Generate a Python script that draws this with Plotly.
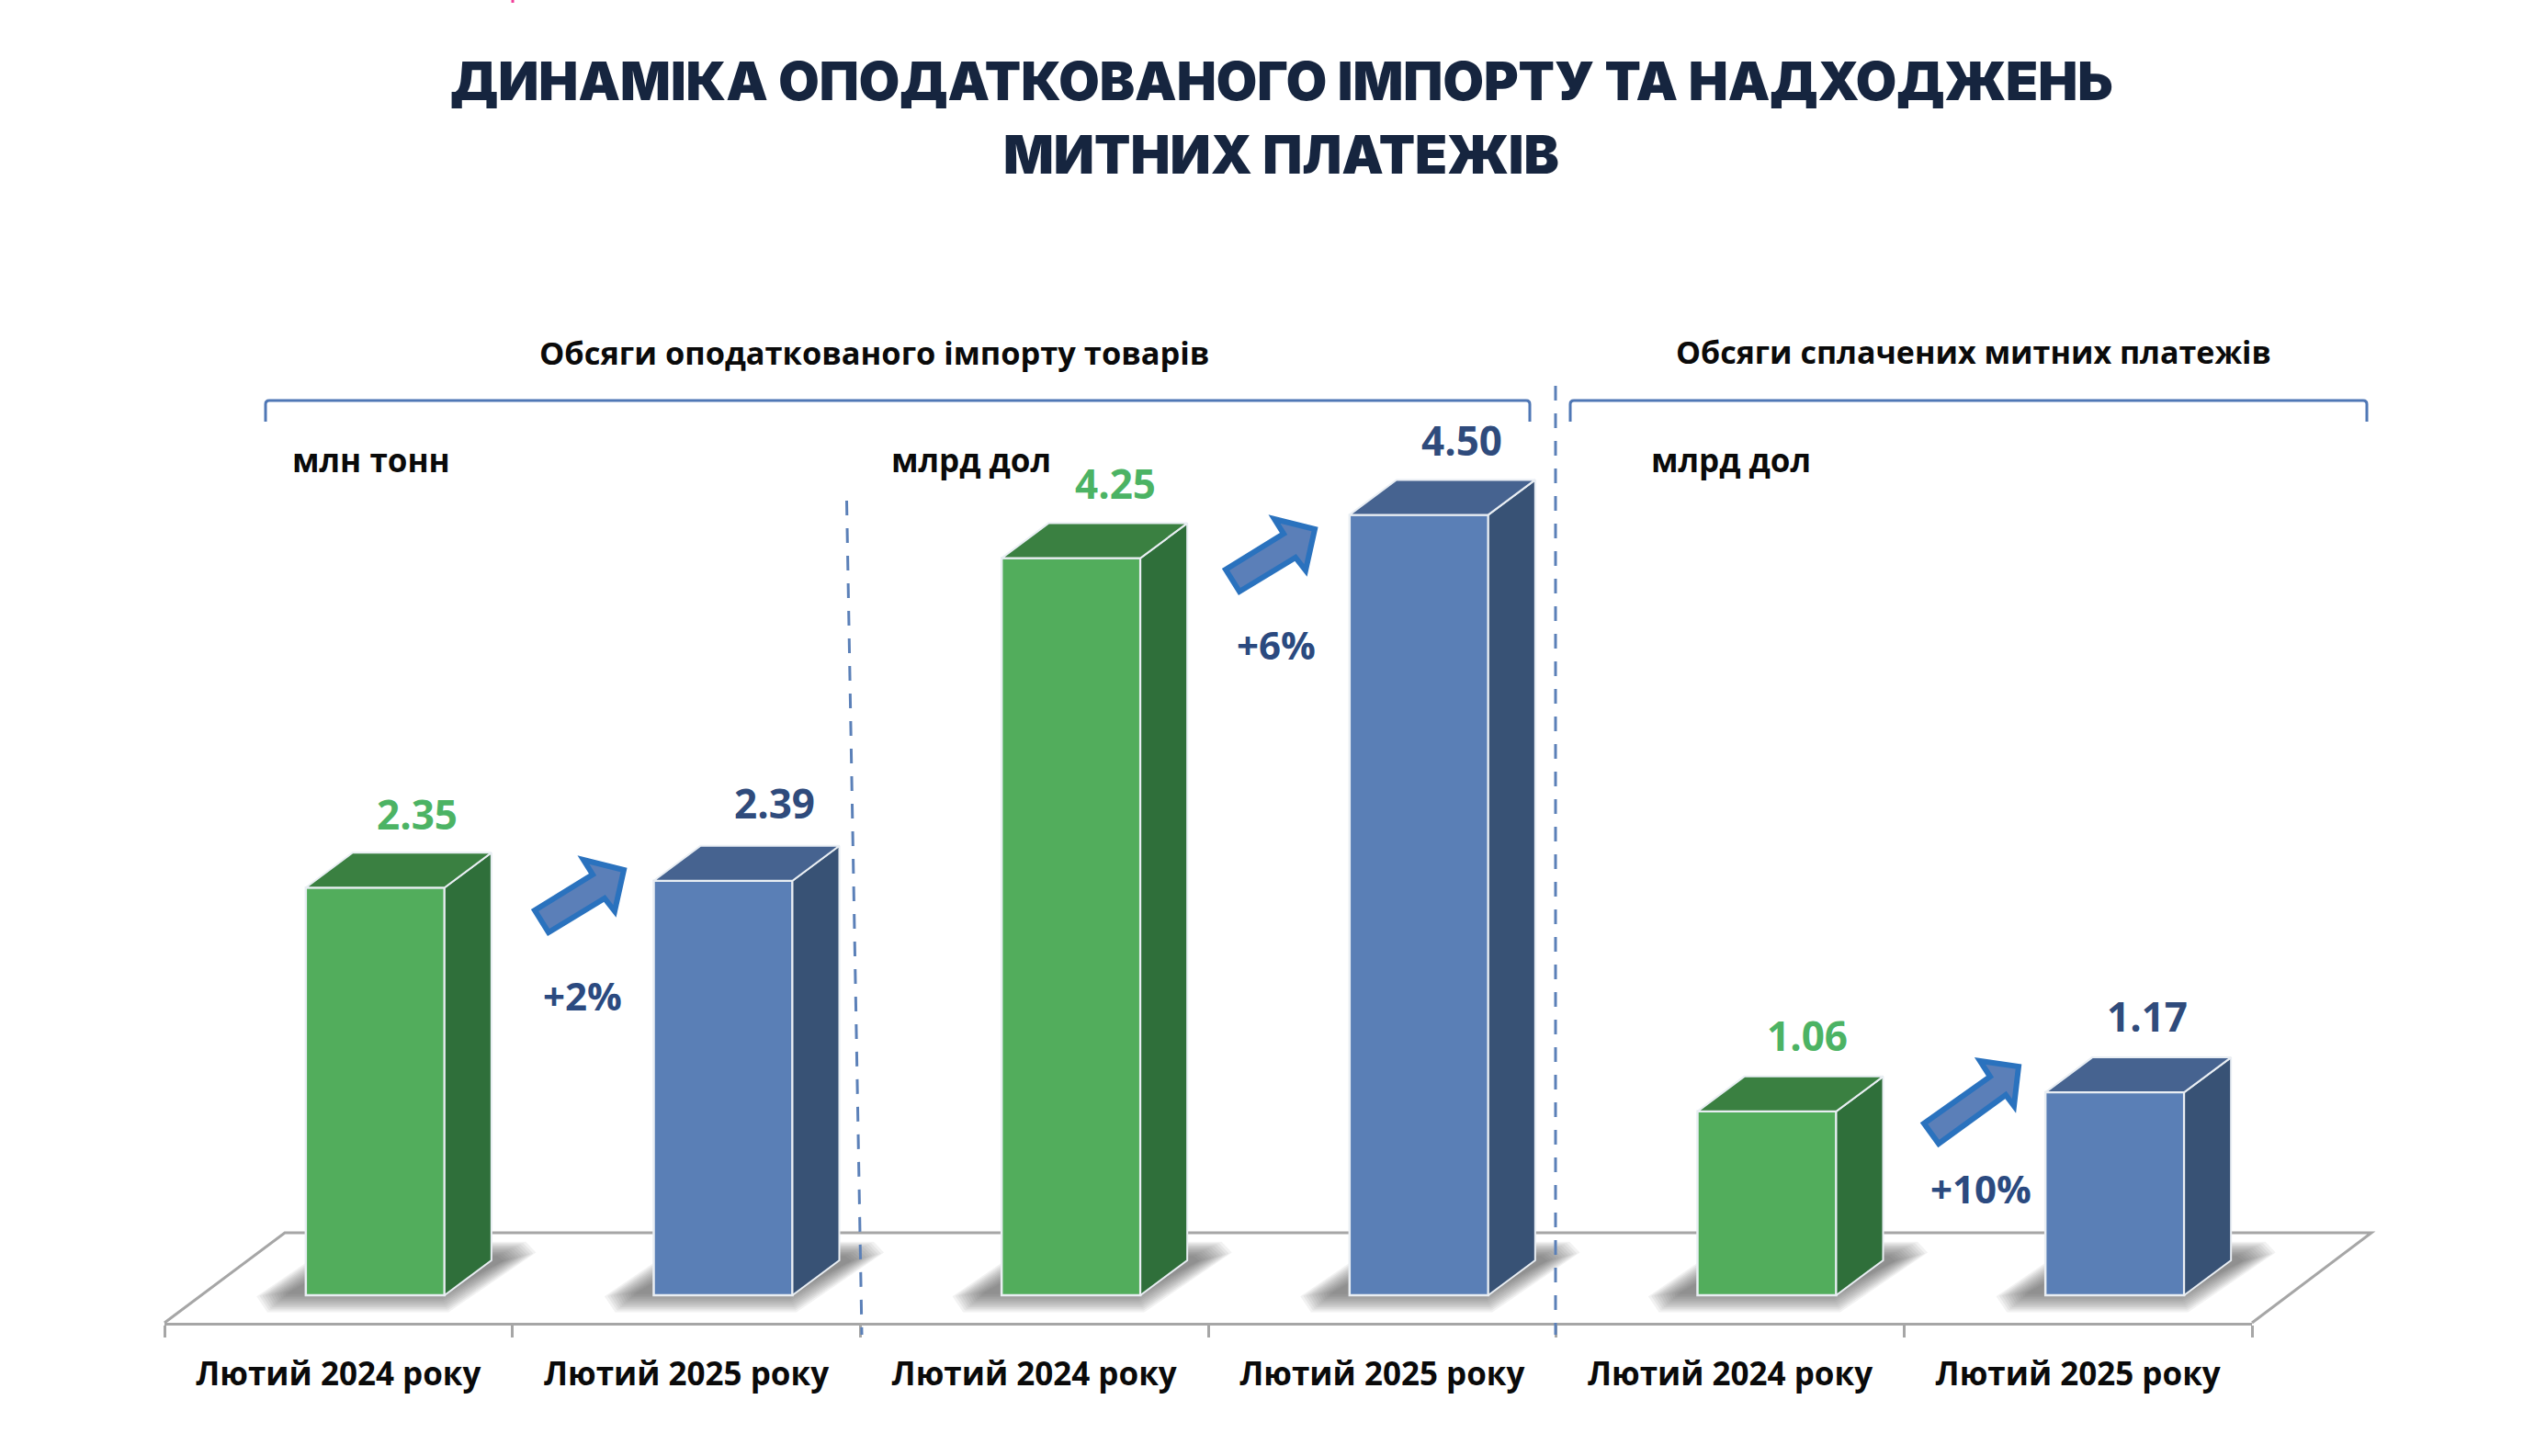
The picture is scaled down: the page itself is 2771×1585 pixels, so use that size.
import plotly.graph_objects as go

# ---- data ----
periods = ["Лютий 2024 року", "Лютий 2025 року", "Лютий 2024 року", "Лютий 2025 року", "Лютий 2024 року", "Лютий 2025 року"]
values = [2.35, 2.39, 4.25, 4.50, 1.06, 1.17]
value_labels = ["2.35", "2.39", "4.25", "4.50", "1.06", "1.17"]
changes = ["+2%", "+6%", "+10%"]
section_titles = ["Обсяги оподаткованого імпорту товарів", "Обсяги сплачених митних платежів"]
units = ["млн тонн", "млрд дол", "млрд дол"]
title_lines = ["ДИНАМІКА ОПОДАТКОВАНОГО ІМПОРТУ ТА НАДХОДЖЕНЬ", "МИТНИХ ПЛАТЕЖІВ"]

# ---- styles ----
W, H = 2771, 1585
PL, PR, PB = 179, 2451, 1440      # plot area in page pixels
STEP = (PR - PL) / 6
UNIT = 188.8                       # pixels per value unit
BASE = 1410
DX, DY = 51 / STEP, 38 / UNIT      # 3D depth in data units
BW = 151 / STEP
FRONT_SHIFT = 40 / STEP
FRONT = ["#52AD5C", "#5A7FB6"]
SIDE = ["#2F6F3A", "#385275"]
TOP = ["#3A8041", "#466390"]
LABEL = ["#4CB364", "#2F4B7C"]
NAVY = "#2B4A80"
GRAY = "#A6A6A6"
SANS = "Open Sans"

def X(p):
    return (p - PL) / (PR - PL)
def Y(p):
    return (PB - p) / PB
def path(pts, close=True):
    s = "M " + " L ".join(f"{X(a):.5f},{Y(b):.5f}" for a, b in pts)
    return s + (" Z" if close else "")

xs = list(range(len(values)))
colour = [i % 2 for i in xs]
fig = go.Figure()

# front faces
fig.add_trace(go.Bar(
    x=xs, y=values, width=BW, offset=-BW / 2 + FRONT_SHIFT,
    marker=dict(color=[FRONT[c] for c in colour], line=dict(color="#E9EEF3", width=2.5)),
    hoverinfo="skip", showlegend=False))

# side and top faces follow the bar values
for i, v in zip(xs, values):
    c = colour[i]
    l = i - BW / 2 + FRONT_SHIFT
    r = i + BW / 2 + FRONT_SHIFT
    fig.add_trace(go.Scatter(x=[r, r + DX, r + DX, r, r], y=[0, DY, v + DY, v, 0], mode="lines", fill="toself",
                             fillcolor=SIDE[c], line=dict(color="#E9EEF3", width=2), hoverinfo="skip", showlegend=False))
    fig.add_trace(go.Scatter(x=[l, l + DX, r + DX, r, l], y=[v, v + DY, v + DY, v, v], mode="lines", fill="toself",
                             fillcolor=TOP[c], line=dict(color="#E9EEF3", width=2), hoverinfo="skip", showlegend=False))

shapes = []
# floor
shapes.append(dict(type="path", xref="paper", yref="paper", layer="below",
                   path=path([(PL, 1440), (310, 1342), (2581, 1342), (PR, 1440)], close=False),
                   line=dict(color=GRAY, width=3)))
# soft shadows
for i in xs:
    xL = PL + (i + 0.5) * STEP + FRONT_SHIFT * STEP - 75.5
    xR = xL + 151
    for t in range(-6, 18, 2):
        pts = [(xL - 36 + t, 1423 - t * .9), (xR + 2 - t * .4, 1423 - t * .9), (xR + 90 - t * 1.6, 1366 + t * .4),
               (xR + 80 - t * 1.4, 1356 + t * .7), (xR + 40, 1356 + t * .7), (xL + 4, 1378 + t),
               (xL - 44 + t * 1.6, 1410 - t * .2)]
        shapes.append(dict(type="path", xref="paper", yref="paper", layer="below", path=path(pts),
                           fillcolor="rgba(70,70,70,0.07)", line=dict(width=0)))
# block arrows
ARROW = [(582, 991), (597, 1015), (658, 978), (669, 992), (679, 947), (635, 936), (645, 952)]
arrow_paths = [ARROW, [(a + 752, b - 371) for a, b in ARROW],
               [(2094, 1223), (2110, 1245), (2183, 1192), (2192, 1204), (2197, 1161), (2155, 1155), (2166, 1172)]]
for a in arrow_paths:
    shapes.append(dict(type="path", xref="paper", yref="paper", path=path(a),
                       fillcolor="#5B7FB8", line=dict(color="#2A72BE", width=6)))
# brackets
BR = "#4F77B5"
for x0, x1, drop in [(289, 1665, 459), (1709, 2576, 459)]:
    shapes.append(dict(type="path", xref="paper", yref="paper",
                       path=f"M {X(x0):.5f},{Y(drop):.5f} L {X(x0):.5f},{Y(440):.5f} Q {X(x0):.5f},{Y(436):.5f} {X(x0+4):.5f},{Y(436):.5f} "
                            f"L {X(x1-4):.5f},{Y(436):.5f} Q {X(x1):.5f},{Y(436):.5f} {X(x1):.5f},{Y(440):.5f} L {X(x1):.5f},{Y(drop):.5f}",
                       line=dict(color=BR, width=3)))
# dashed dividers
for x0, y0, x1, y1 in [(921.5, 545, 938, 1453), (1693, 420, 1693, 1453)]:
    shapes.append(dict(type="line", xref="paper", yref="paper", x0=X(x0), y0=Y(y0), x1=X(x1), y1=Y(y1),
                       line=dict(color="#5B80B8", width=3, dash="16px,14px")))
# small pink mark on the top edge
shapes.append(dict(type="line", xref="paper", yref="paper", x0=X(558), y0=Y(0), x1=X(558), y1=Y(3),
                   line=dict(color="#F0409A", width=3)))

ann = []
def text(s, x, y, size, color, weight=700, family=SANS):
    ann.append(dict(text=s, x=X(x), y=Y(y), xref="paper", yref="paper", xanchor="center", yanchor="middle",
                    showarrow=False, font=dict(family=family, size=size, color=color, weight=weight)))

text(title_lines[0], 1394.5, 88, 57.4, "#16253F", 900, "Inter")
text(title_lines[1], 1394, 168, 57.4, "#16253F", 900, "Inter")
text(section_titles[0], 951, 383, 34.4, "#0A0A0A")
text(section_titles[1], 2148, 383, 34, "#0A0A0A")
for s, cx in zip(units, [404, 1057, 1884]):
    text(s, cx, 500, 35, "#0A0A0A")
for s, (cx, cy) in zip(changes, [(634, 1083), (1389, 701), (2156, 1293)]):
    text(s, cx, cy, 42, NAVY)

# value labels anchored on the bars
label_dx = [46, 56, 48, 47, 44, 35]
label_dy = [80, 85, 82, 81, 83, 83]
for i, v, s in zip(xs, values, value_labels):
    ann.append(dict(text=s, x=i + FRONT_SHIFT, y=v, xref="x", yref="y", xanchor="center", yanchor="middle",
                    xshift=label_dx[i], yshift=label_dy[i], showarrow=False,
                    font=dict(family=SANS, size=44, color=LABEL[colour[i]], weight=700)))

fig.update_layout(
    width=W, height=H, paper_bgcolor="white", plot_bgcolor="rgba(0,0,0,0)",
    margin=dict(l=PL, r=W - PR, t=0, b=H - PB, autoexpand=False),
    showlegend=False, shapes=shapes, annotations=ann,
    xaxis=dict(range=[-0.5, 5.5], tickmode="array", tickvals=xs, ticktext=periods, ticks="", showgrid=False,
               zeroline=False, showline=True, linecolor=GRAY, linewidth=3, ticklabelstandoff=23,
               tickfont=dict(family=SANS, size=35, color="#0A0A0A", weight=700),
               minor=dict(tickmode="array", tickvals=[i - 0.5 for i in range(7)], ticks="outside", ticklen=13, tickwidth=3,
                          tickcolor=GRAY, showgrid=False)),
    yaxis=dict(range=[-(PB - BASE) / UNIT, BASE / UNIT], visible=False, showgrid=False, zeroline=False),
)
fig.write_html("out.html", post_script="document.body.style.margin='0';document.documentElement.style.overflow='hidden';",
               config=dict(displayModeBar=False))
